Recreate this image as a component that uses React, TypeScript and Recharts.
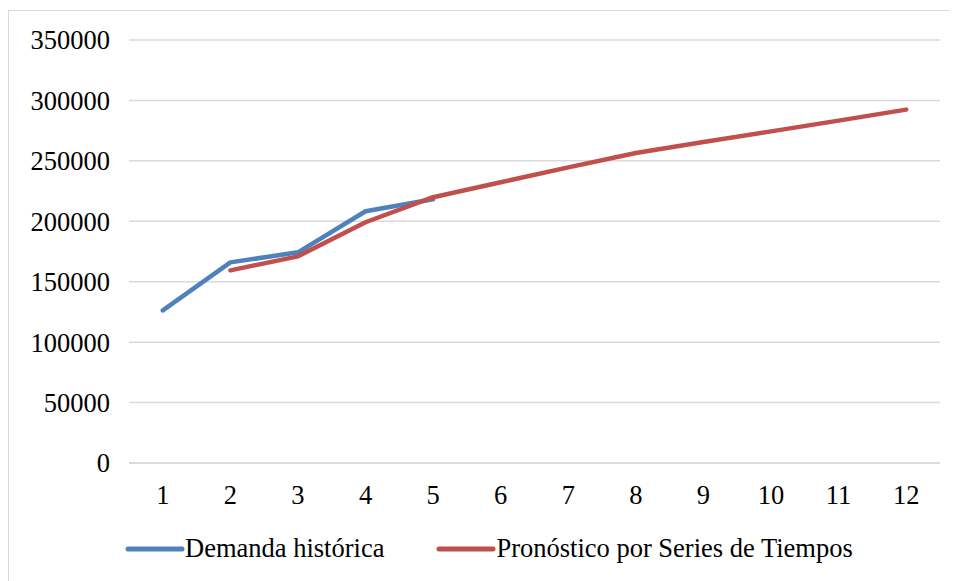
import { CartesianGrid, Legend, Line, LineChart, XAxis, YAxis } from "recharts";

const periods = [1, 2, 3, 4, 5, 6, 7, 8, 9, 10, 11, 12];
const demandaHistorica = [126300, 166000, 174300, 208300, 218200, null, null, null, null, null, null, null];
const pronostico = [null, 159400, 171000, 199200, 219900, 232300, 244600, 256500, 265600, 274400, 283300, 292400];
const yTicks = [0, 50000, 100000, 150000, 200000, 250000, 300000, 350000];

const data = periods.map((p, i) => ({
  period: p,
  demanda: demandaHistorica[i],
  pronostico: pronostico[i]
}));

const FONT = "Times New Roman, Liberation Serif, Tinos, DejaVu Serif, serif";
const FONT_SIZE = 26.5;

const renderLegend = (props: any) => {
  const items = props.payload || [];
  return (
    <div style={{ display: "flex", alignItems: "center", fontFamily: FONT, fontSize: FONT_SIZE, color: "#000", whiteSpace: "nowrap" }}>
      {items.map((e: any, i: number) => (
        <div key={i} style={{ display: "flex", alignItems: "center", marginRight: i === 0 ? 52 : 0 }}>
          <svg width={60} height={10} style={{ display: "block" }}>
            <line x1={3} y1={5} x2={57} y2={5} stroke={e.color} strokeWidth={5} strokeLinecap="round" />
          </svg>
          <span>{e.value}</span>
        </div>
      ))}
    </div>
  );
};

export default function App() {
  return (
    <div
      style={{
        width: 948,
        height: 570,
        marginTop: 2,
        borderTop: "1px solid #d9d9d9",
        borderLeft: "1px solid #d9d9d9",
        background: "#fff"
      }}
    >
      <LineChart width={948} height={570} data={data} margin={{ top: 29, right: 17, bottom: 68, left: 0 }}>
        <CartesianGrid vertical={false} stroke="#d9d9d9" strokeWidth={1.5} />
        <XAxis
          dataKey="period"
          padding={{ left: 33.8, right: 33.8 }}
          axisLine={{ stroke: "#d9d9d9", strokeWidth: 1.5 }}
          tickLine={false}
          tickSize={0}
          tickMargin={22}
          height={50}
          tick={{ fill: "#000", fontFamily: FONT, fontSize: FONT_SIZE }}
          interval={0}
        />
        <YAxis
          domain={[0, 350000]}
          ticks={yTicks}
          width={120}
          axisLine={false}
          tickLine={false}
          tickSize={0}
          tickMargin={19}
          tick={{ fill: "#000", fontFamily: FONT, fontSize: FONT_SIZE }}
        />
        <Legend
          verticalAlign="middle"
          align="center"
          layout="horizontal"
          content={renderLegend}
          wrapperStyle={{ left: 116, top: 522, width: "auto", height: "auto" }}
        />
        <Line
          type="linear"
          dataKey="demanda"
          name="Demanda histórica"
          stroke="#4F81BD"
          strokeWidth={4.5}
          strokeLinecap="round"
          strokeLinejoin="round"
          dot={false}
          activeDot={false}
          isAnimationActive={false}
        />
        <Line
          type="linear"
          dataKey="pronostico"
          name="Pronóstico por Series de Tiempos"
          stroke="#C0504D"
          strokeWidth={4.5}
          strokeLinecap="round"
          strokeLinejoin="round"
          dot={false}
          activeDot={false}
          isAnimationActive={false}
        />
      </LineChart>
    </div>
  );
}
